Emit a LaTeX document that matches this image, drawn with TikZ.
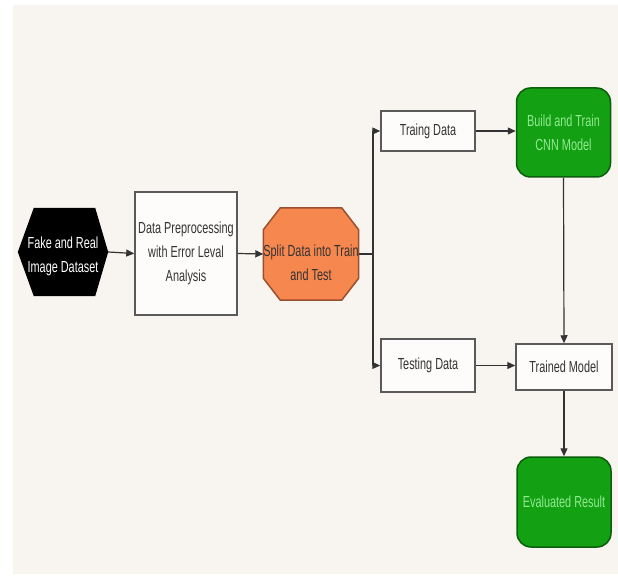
\documentclass[tikz,border=0pt]{standalone}
\usepackage{fontspec}
\setmainfont[FakeStretch=0.68]{Liberation Sans}
\usetikzlibrary{arrows.meta,calc}
\definecolor{panel}{HTML}{F8F5F0}
\definecolor{boxfill}{HTML}{FDFCFA}
\definecolor{boxline}{HTML}{5A5A5A}
\definecolor{txt}{HTML}{333333}
\definecolor{gfill}{HTML}{13A013}
\definecolor{gline}{HTML}{0B5E0B}
\definecolor{gtxt}{HTML}{92EA92}
\definecolor{ofill}{HTML}{F6874F}
\definecolor{oline}{HTML}{9A5030}
\definecolor{conn}{HTML}{333333}
\pgfdeclarelayer{bg}
\pgfdeclarelayer{shapes}
\pgfsetlayers{bg,shapes,main}
\tikzset{
  lbl/.style={font=\fontsize{16}{24}\selectfont, align=center, inner sep=0pt},
  plainbox/.style={lbl, draw=boxline, fill=boxfill, line width=1.5pt, text=txt},
  greenbox/.style={lbl, draw=gline, fill=gfill, line width=1.5pt, text=gtxt, rounded corners=14pt},
  arr/.style={draw=conn, line width=1.2pt, -{Triangle[length=8pt,width=7pt]}},
  ln/.style={draw=conn, line width=1.2pt}
}
\begin{document}
\begin{tikzpicture}[x=1pt,y=-1pt]
\useasboundingbox (0,0) rectangle (618,577);
\begin{pgfonlayer}{bg}
\fill[white] (0,0) rectangle (618,577);
\fill[panel] (13,5) rectangle (618,574);
\end{pgfonlayer}

% hexagon
\node[lbl, text=white, minimum width=90pt, minimum height=88pt] (ds) at (63,252) {};
\node[lbl, text=white] (dstext) at (63,256) {Fake and Real\\Image Dataset};
\begin{pgfonlayer}{shapes}
\fill[black] (ds.west) -- ($(ds.north west)+(16,0)$) -- ($(ds.north east)+(-13,0)$) -- (ds.east)
  -- ($(ds.south east)+(-13,0)$) -- ($(ds.south west)+(16,0)$) -- cycle;
\end{pgfonlayer}

\node[plainbox, minimum width=102pt, minimum height=123pt] (pre) at (186,253.5) {Data Preprocessing\\with Error Leval\\Analysis};

% octagon
\node[lbl, minimum width=95pt, minimum height=92pt] (split) at (311,254) {};
\node[lbl, text=txt] (splittext) at (311,263) {Split Data into Train\\and Test};
\begin{pgfonlayer}{shapes}
\filldraw[fill=ofill, draw=oline, line width=1.5pt]
  ($(split.north west)+(17,0)$) -- ($(split.north east)+(-17,0)$) -- ($(split.north east)+(0,22)$)
  -- ($(split.south east)+(0,-22)$) -- ($(split.south east)+(-17,0)$) -- ($(split.south west)+(17,0)$)
  -- ($(split.south west)+(0,-22)$) -- ($(split.north west)+(0,22)$) -- cycle;
\end{pgfonlayer}

\node[plainbox, minimum width=94pt, minimum height=40pt] (train) at (428,131) {Traing Data};
\node[plainbox, minimum width=94pt, minimum height=53pt] (test) at (428,365.5) {Testing Data};
\node[greenbox, minimum width=94pt, minimum height=89pt] (cnn) at (563.5,132.5) {Build and Train\\CNN Model};
\node[plainbox, minimum width=96pt, minimum height=46pt] (trained) at (564,367) {Trained Model};
\node[greenbox, minimum width=94pt, minimum height=90pt] (eval) at (564,502) {Evaluated Result};

\coordinate (j) at (373,254);
\draw[arr] (ds.east) -- (pre.west);
\draw[arr] (pre.east) -- (split.west);
\draw[ln] (split.east) -- (j);
\draw[arr] (j) |- (train.west);
\draw[arr] (j) |- (test.west);
\draw[arr] (train.east) -- (cnn.west |- train.east);
\draw[arr] (cnn.south) -- (trained.north);
\draw[arr] (test.east) -- (trained.west |- test.east);
\draw[arr] (trained.south) -- (eval.north);
\end{tikzpicture}
\end{document}
